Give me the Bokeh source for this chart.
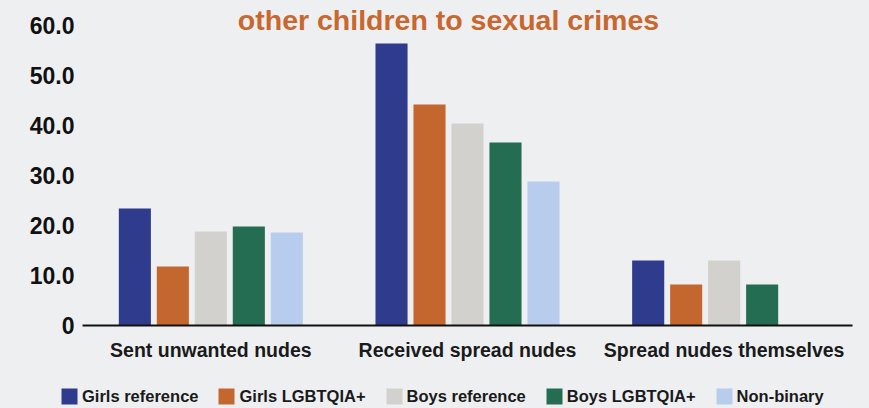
from bokeh.plotting import figure
from bokeh.layouts import column, row
from bokeh.models import (ColumnDataSource, FactorRange, Legend, LegendItem, Label,
                          FixedTicker, CustomJSTickFormatter, Range1d)
from bokeh.transform import dodge
from bokeh.embed import file_html
from bokeh.resources import INLINE

categories = ["Sent unwanted nudes", "Received spread nudes", "Spread nudes themselves"]
series_names = ["Girls reference", "Girls LGBTQIA+", "Boys reference", "Boys LGBTQIA+", "Non-binary"]
girls_reference = [23.4, 56.4, 13.0]
girls_lgbtqia = [11.8, 44.2, 8.2]
boys_reference = [18.8, 40.4, 13.0]
boys_lgbtqia = [19.8, 36.6, 8.2]
non_binary = [18.6, 28.8, float("nan")]
y_ticks = [0, 10, 20, 30, 40, 50, 60]
title_text = "other children to sexual crimes"

colors = ["#2f3b8d", "#c4672f", "#d2d1cd", "#246c52", "#b8cdee"]
bg = "#eeeff1"
FONT = "Liberation Sans"

source = ColumnDataSource(dict(
    cat=categories,
    s0=girls_reference,
    s1=girls_lgbtqia,
    s2=boys_reference,
    s3=boys_lgbtqia,
    s4=non_binary,
))

# ---- main chart ----
p = figure(width=869, height=383,
           x_range=FactorRange(factors=categories, range_padding=0),
           y_range=Range1d(0, 65),
           output_backend="svg", toolbar_location=None,
           min_border_left=82, min_border_right=17,
           min_border_top=0, min_border_bottom=58)

offsets = [-0.296, -0.148, 0.0, 0.148, 0.296]
for i, (off, col) in enumerate(zip(offsets, colors)):
    p.vbar(x=dodge("cat", off, range=p.x_range), top="s%d" % i, width=0.125,
           source=source, fill_color=col, line_color=None)

title = Label(x=366, y=306, x_units="screen", y_units="screen", text=title_text,
              text_align="center", text_baseline="alphabetic",
              text_font=FONT, text_font_size="28.5px", text_font_style="bold",
              text_color="#c8672e")
p.add_layout(title)

p.xaxis.axis_line_color = "#111111"
p.xaxis.axis_line_width = 2
p.xaxis.major_tick_line_color = None
p.xaxis.minor_tick_line_color = None
p.xaxis.major_tick_out = 0
p.xaxis.major_tick_in = 0
p.xaxis.minor_tick_out = 0
p.xaxis.major_label_text_font = FONT
p.xaxis.major_label_text_font_style = "bold"
p.xaxis.major_label_text_font_size = "19.5px"
p.xaxis.major_label_text_color = "#1a1a1a"
p.xaxis.major_label_standoff = 13

p.yaxis.ticker = FixedTicker(ticks=y_ticks)
p.yaxis.formatter = CustomJSTickFormatter(code="return tick == 0 ? '0' : tick.toFixed(1);")
p.yaxis.axis_line_color = None
p.yaxis.major_tick_line_color = None
p.yaxis.minor_tick_line_color = None
p.yaxis.major_tick_out = 0
p.yaxis.major_tick_in = 0
p.yaxis.major_label_text_font = FONT
p.yaxis.major_label_text_font_style = "bold"
p.yaxis.major_label_text_font_size = "23px"
p.yaxis.major_label_text_color = "#111111"
p.yaxis.major_label_standoff = 8

p.xgrid.grid_line_color = None
p.ygrid.grid_line_color = None
p.outline_line_color = None
p.background_fill_color = bg
p.border_fill_color = bg

# ---- legend strip (same series, bars kept out of view) ----
lg = figure(width=869, height=25,
            x_range=FactorRange(factors=categories, range_padding=0),
            y_range=Range1d(1000, 1001),
            x_axis_type=None, y_axis_type=None,
            output_backend="svg", toolbar_location=None,
            min_border_left=0, min_border_right=0,
            min_border_top=0, min_border_bottom=0)
items = []
for i, (name, off, col) in enumerate(zip(series_names, offsets, colors)):
    r = lg.vbar(x=dodge("cat", off, range=lg.x_range), top="s%d" % i, width=0.125,
                source=source, fill_color=col, line_color=None)
    items.append(LegendItem(label=name, renderers=[r]))

legend = Legend(items=items, orientation="horizontal", location=(59, 2),
                glyph_width=20, glyph_height=20, label_standoff=3, spacing=18,
                padding=0, margin=0, border_line_color=None,
                background_fill_alpha=0,
                label_text_font=FONT, label_text_font_style="bold",
                label_text_font_size="16.5px", label_text_color="#1a1a1a")
lg.add_layout(legend, "center")
lg.xgrid.grid_line_color = None
lg.ygrid.grid_line_color = None
lg.outline_line_color = None
lg.background_fill_color = bg
lg.border_fill_color = bg

layout = column(p, row(lg, spacing=0, styles={"background-color": bg}),
                spacing=0, styles={"background-color": bg})
open("out.html", "w").write(file_html(layout, INLINE))
